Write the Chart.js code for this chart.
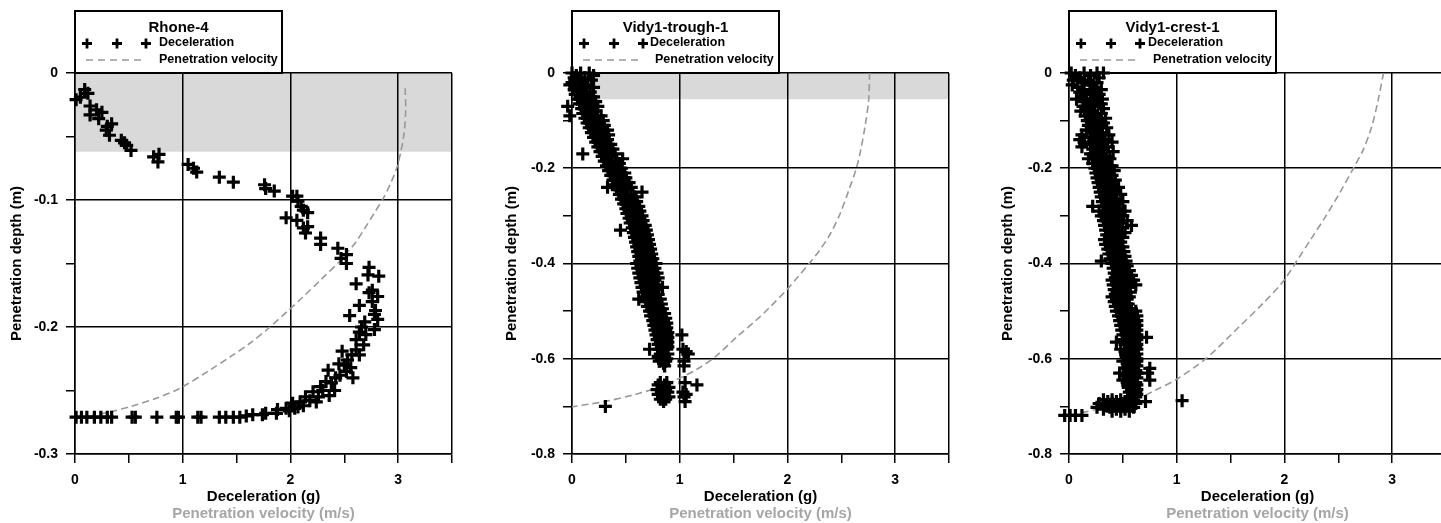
<!DOCTYPE html>
<html><head><meta charset="utf-8">
<script src="https://cdn.jsdelivr.net/npm/chart.js@4.4.1/dist/chart.umd.min.js"></script>
<style>
html,body{margin:0;padding:0;width:1441px;height:523px;overflow:hidden;background:#fff;}
canvas{position:absolute;top:0;}
</style></head><body>
<canvas id="c1" width="485" height="523" style="left:0px"></canvas>
<canvas id="c2" width="485" height="523" style="left:495px"></canvas>
<canvas id="c3" width="485" height="523" style="left:991px"></canvas>
<script>
// ---------- data ----------
const panelTitles = ['Rhone-4', 'Vidy1-trough-1', 'Vidy1-crest-1'];
const seriesNames = ['Deceleration', 'Penetration velocity'];
const xTitle = 'Deceleration (g)';
const x2Title = 'Penetration velocity (m/s)';
const yTitle = 'Penetration depth (m)';
const xRange = [0, 3.5];
const xTickLabels = ['0', '1', '2', '3'];
const depthRanges = [[-0.3, 0], [-0.8, 0], [-0.8, 0]];
const depthMinorSteps = [0.05, 0.1, 0.1];
const depthMajorSteps = [0.1, 0.2, 0.2];
const shadeDepths = [-0.062, -0.055, null];

// Rhone-4 deceleration [g, depth]
const p1Decel = [
[0.01,-0.021],[0.09,-0.013],[0.12,-0.016],[0.05,-0.019],[0.14,-0.026],[0.2,-0.029],[0.14,-0.033],[0.22,-0.036],
[0.25,-0.031],[0.34,-0.040],[0.29,-0.045],[0.32,-0.049],[0.3,-0.042],[0.43,-0.053],[0.48,-0.057],[0.52,-0.061],
[0.46,-0.055],[0.73,-0.066],[0.77,-0.070],[0.78,-0.064],[1.05,-0.072],[1.13,-0.078],[1.1,-0.075],[1.34,-0.082],
[1.47,-0.086],[1.76,-0.088],[1.77,-0.091],[1.85,-0.093],[2.02,-0.097],[2.07,-0.101],[2.06,-0.097],[2.10,-0.105],
[2.12,-0.108],[2.16,-0.110],[1.96,-0.114],[2.06,-0.116],[2.16,-0.121],[2.14,-0.126],[2.12,-0.122],[2.28,-0.130],
[2.28,-0.135],[2.44,-0.138],[2.52,-0.143],[2.47,-0.146],[2.52,-0.150],[2.73,-0.153],[2.82,-0.160],[2.72,-0.159],
[2.61,-0.166],[2.76,-0.171],[2.73,-0.173],[2.81,-0.176],[2.76,-0.180],[2.64,-0.183],[2.79,-0.187],[2.81,-0.194],
[2.55,-0.191],[2.69,-0.196],[2.78,-0.202],[2.78,-0.190],[2.64,-0.204],[2.61,-0.210],[2.68,-0.214],[2.61,-0.218],
[2.48,-0.219],[2.64,-0.222],[2.53,-0.226],[2.45,-0.229],[2.35,-0.234],[2.52,-0.235],[2.58,-0.240],[2.42,-0.240],
[2.38,-0.244],[2.28,-0.247],[2.41,-0.250],[2.21,-0.251],[2.36,-0.254],[2.14,-0.255],[2.26,-0.255],[2.24,-0.259],
[2.09,-0.259],[2.02,-0.260],[2.07,-0.263],[1.96,-0.264],[1.99,-0.266],[1.88,-0.265],[1.87,-0.268],[1.77,-0.268],
[2.66,-0.200],[2.70,-0.206],[2.57,-0.222],[2.50,-0.230],[2.56,-0.232],[2.46,-0.238],[2.33,-0.243],[2.30,-0.250],
[2.18,-0.258],[2.12,-0.262],[2.04,-0.264],
[1.74,-0.269],[1.65,-0.269],[1.59,-0.270],[1.53,-0.271],[1.47,-0.271],[1.40,-0.271],[1.34,-0.271],[1.17,-0.271],
[1.14,-0.271],[0.96,-0.271],[0.94,-0.271],[0.76,-0.271],[0.56,-0.271],[0.53,-0.271],[0.34,-0.271],[0.30,-0.271],
[0.24,-0.271],[0.18,-0.271],[0.11,-0.271],[0.06,-0.271],[0.01,-0.271]
];
// Vidy1-trough-1 deceleration, rows of [depth, [g values read at that depth]]
const p2DecelRows = [
[0.000,[0.00,0.08,0.16]],[-0.005,[0.04,0.20]],[-0.010,[0.02,0.12]],[-0.015,[0.07,0.18]],[-0.020,[0.00,0.10]],
[-0.025,[-0.02,0.14]],[-0.030,[0.04,0.12,0.20]],[-0.035,[0.02,0.09]],[-0.040,[0.06,0.17]],[-0.045,[0.03,0.13]],
[-0.050,[0.08,0.20]],[-0.055,[0.05,0.14]],[-0.060,[0.10,0.22]],[-0.065,[0.07,0.16]],[-0.070,[-0.04,0.12,0.24]],
[-0.075,[0.09,0.18]],[-0.080,[0.13,0.22]],[-0.085,[0.10,0.19]],[-0.090,[-0.02,0.15,0.27]],[-0.095,[0.12,0.22]],
[-0.100,[0.16,0.29]],[-0.105,[0.14,0.24]],[-0.110,[0.18,0.30]],[-0.115,[0.16,0.26]],[-0.120,[0.20,0.33]],
[-0.125,[0.18,0.28]],[-0.130,[0.22,0.34]],[-0.135,[0.20,0.30]],[-0.140,[0.24,0.33]],[-0.145,[0.22,0.31]],
[-0.150,[0.26,0.36]],[-0.155,[0.24,0.33]],[-0.160,[0.28,0.38]],[-0.165,[0.26,0.35]],[-0.170,[0.10,0.30,0.40]],
[-0.175,[0.28,0.37]],[-0.180,[0.32,0.47]],[-0.185,[0.30,0.40]],[-0.190,[0.34,0.44]],[-0.195,[0.32,0.42]],
[-0.200,[0.36,0.46]],[-0.205,[0.34,0.44]],[-0.210,[0.38,0.49]],[-0.215,[0.36,0.46]],[-0.220,[0.40,0.50]],
[-0.225,[0.38,0.48]],[-0.230,[0.42,0.53]],[-0.235,[0.40,0.50]],[-0.240,[0.33,0.44,0.55]],[-0.245,[0.42,0.52]],
[-0.250,[0.46,0.65]],[-0.255,[0.44,0.55]],[-0.260,[0.48,0.58]],[-0.265,[0.46,0.56]],[-0.270,[0.50,0.60]],
[-0.275,[0.48,0.58]],[-0.280,[0.52,0.62]],[-0.285,[0.50,0.60]],[-0.290,[0.53,0.63]],[-0.295,[0.51,0.61]],
[-0.300,[0.55,0.65]],[-0.305,[0.53,0.63]],[-0.310,[0.56,0.66]],[-0.315,[0.54,0.64]],[-0.320,[0.58,0.68]],
[-0.325,[0.56,0.66]],[-0.330,[0.45,0.59,0.69]],[-0.335,[0.57,0.67]],[-0.340,[0.60,0.70]],[-0.345,[0.58,0.68]],
[-0.350,[0.61,0.71]],[-0.355,[0.59,0.69]],[-0.360,[0.62,0.72]],[-0.365,[0.60,0.70]],[-0.370,[0.63,0.73]],
[-0.375,[0.61,0.71]],[-0.380,[0.64,0.74]],[-0.385,[0.62,0.72]],[-0.390,[0.65,0.75]],[-0.395,[0.63,0.73]],
[-0.400,[0.60,0.70,0.78]],[-0.405,[0.64,0.74]],[-0.410,[0.61,0.71,0.77]],[-0.415,[0.65,0.75]],[-0.420,[0.62,0.72,0.79]],
[-0.425,[0.66,0.76]],[-0.430,[0.63,0.73,0.80]],[-0.435,[0.67,0.77]],[-0.440,[0.64,0.74]],[-0.445,[0.68,0.78]],
[-0.450,[0.65,0.75,0.84]],[-0.455,[0.69,0.79]],[-0.460,[0.66,0.76]],[-0.465,[0.70,0.80]],[-0.470,[0.67,0.77]],
[-0.475,[0.62,0.72,0.82]],[-0.480,[0.69,0.79]],[-0.485,[0.73,0.83]],[-0.490,[0.70,0.80]],[-0.495,[0.74,0.84]],
[-0.500,[0.72,0.82]],[-0.505,[0.76,0.86]],[-0.510,[0.73,0.83]],[-0.515,[0.77,0.87]],[-0.520,[0.75,0.85]],
[-0.525,[0.78,0.88]],[-0.530,[0.76,0.86]],[-0.535,[0.79,0.88]],[-0.540,[0.77,0.87]],[-0.545,[0.80,0.89]],
[-0.550,[0.78,0.88,1.02]],[-0.555,[0.81,0.89]],[-0.560,[0.79,0.88]],[-0.565,[0.82,0.89]],[-0.570,[0.80,0.88]],
[-0.575,[0.83,0.89]],[-0.580,[0.72,0.81,0.88,1.03]],[-0.585,[0.84,1.06]],[-0.590,[0.82,0.89,1.08]],[-0.595,[0.80,0.86]],
[-0.600,[0.83,0.88]],[-0.605,[0.81,0.87,1.04]],[-0.610,[0.85]],[-0.615,[0.86,1.04]],
[-0.650,[0.82,0.88,1.05]],[-0.655,[0.80,0.86,1.16]],[-0.660,[0.84,0.90]],[-0.665,[0.79,0.87]],[-0.670,[0.83,0.89,1.03]],
[-0.675,[0.80,0.86,1.06]],[-0.680,[0.84,0.90,1.04]],[-0.685,[0.82,0.87]],[-0.690,[0.85,1.05]],[-0.700,[0.31]]
];
// Vidy1-crest-1 deceleration, rows of [depth, [g values]]
const p3DecelRows = [
[0.000,[0.02,0.14,0.26,0.32]],[-0.005,[0.06,0.20]],[-0.010,[0.10,0.28]],[-0.015,[0.04,0.18]],[-0.020,[0.12,0.26]],
[-0.025,[0.03,0.20]],[-0.030,[0.08,0.24]],[-0.035,[0.14,0.30]],[-0.040,[0.10,0.22]],[-0.045,[0.16,0.28]],
[-0.050,[0.12,0.25]],[-0.055,[0.07,0.20,0.31]],[-0.060,[0.14,0.26]],[-0.065,[0.18,0.30]],[-0.070,[0.13,0.24]],
[-0.075,[0.17,0.32]],[-0.080,[0.11,0.22]],[-0.085,[0.19,0.30]],[-0.090,[0.15,0.25]],[-0.095,[0.20,0.34]],
[-0.100,[0.17,0.27]],[-0.105,[0.21,0.32]],[-0.110,[0.18,0.28]],[-0.115,[0.22,0.35]],[-0.120,[0.16,0.25]],
[-0.125,[0.21,0.31]],[-0.130,[0.12,0.24,0.37]],[-0.135,[0.20,0.29]],[-0.140,[0.10,0.23,0.33]],[-0.145,[0.14,0.27,0.40]],
[-0.150,[0.20,0.30]],[-0.155,[0.12,0.25,0.36]],[-0.160,[0.22,0.32]],[-0.165,[0.26,0.41]],[-0.170,[0.20,0.30]],
[-0.175,[0.24,0.35]],[-0.180,[0.18,0.28,0.38]],[-0.185,[0.26,0.34]],[-0.190,[0.22,0.31]],[-0.195,[0.27,0.40]],
[-0.200,[0.24,0.33]],[-0.205,[0.28,0.42]],[-0.210,[0.25,0.35]],[-0.215,[0.29,0.40]],[-0.220,[0.26,0.36]],
[-0.225,[0.30,0.43]],[-0.230,[0.27,0.37]],[-0.235,[0.31,0.41]],[-0.240,[0.28,0.38,0.46]],[-0.245,[0.32,0.42]],
[-0.250,[0.29,0.39]],[-0.255,[0.33,0.48]],[-0.260,[0.30,0.40]],[-0.265,[0.34,0.44]],[-0.270,[0.31,0.41,0.50]],
[-0.275,[0.35,0.45]],[-0.280,[0.22,0.32,0.42]],[-0.285,[0.36,0.47]],[-0.290,[0.28,0.38,0.52]],[-0.295,[0.34,0.44]],
[-0.300,[0.30,0.40,0.50]],[-0.305,[0.35,0.46]],[-0.310,[0.32,0.42,0.54]],[-0.315,[0.37,0.48]],[-0.320,[0.33,0.44,0.58]],
[-0.325,[0.38,0.50]],[-0.330,[0.34,0.45]],[-0.335,[0.39,0.52]],[-0.340,[0.35,0.46]],[-0.345,[0.40,0.50]],
[-0.350,[0.33,0.44]],[-0.355,[0.38,0.48]],[-0.360,[0.34,0.45]],[-0.365,[0.39,0.50]],[-0.370,[0.36,0.46]],
[-0.375,[0.40,0.51]],[-0.380,[0.37,0.47]],[-0.385,[0.41,0.52]],[-0.390,[0.38,0.48]],[-0.395,[0.30,0.43,0.53]],
[-0.400,[0.40,0.50]],[-0.405,[0.44,0.54]],[-0.410,[0.41,0.51]],[-0.415,[0.45,0.56]],[-0.420,[0.42,0.52]],
[-0.425,[0.46,0.58]],[-0.430,[0.43,0.53]],[-0.435,[0.40,0.48,0.60]],[-0.440,[0.44,0.55]],[-0.445,[0.41,0.50,0.62]],
[-0.450,[0.46,0.56]],[-0.455,[0.42,0.52]],[-0.460,[0.47,0.57]],[-0.465,[0.43,0.53]],[-0.470,[0.40,0.48,0.56]],
[-0.475,[0.44,0.54]],[-0.480,[0.42,0.50]],[-0.485,[0.46,0.55]],[-0.490,[0.43,0.52]],[-0.495,[0.48,0.58]],
[-0.500,[0.44,0.54,0.62]],[-0.505,[0.49,0.59]],[-0.510,[0.46,0.56,0.63]],[-0.515,[0.50,0.60]],[-0.520,[0.47,0.57,0.63]],
[-0.525,[0.51,0.61]],[-0.530,[0.48,0.58,0.63]],[-0.535,[0.52,0.61]],[-0.540,[0.49,0.57,0.63]],[-0.545,[0.53,0.61]],
[-0.550,[0.50,0.58,0.63]],[-0.555,[0.54,0.62,0.72]],[-0.560,[0.51,0.59,0.63]],[-0.565,[0.44,0.55,0.61]],[-0.570,[0.52,0.60,0.63]],
[-0.575,[0.56,0.62]],[-0.580,[0.48,0.57,0.63]],[-0.585,[0.52,0.60]],[-0.590,[0.55,0.63]],[-0.595,[0.53,0.61]],
[-0.600,[0.56,0.63]],[-0.605,[0.50,0.59,0.63]],[-0.610,[0.54,0.61]],[-0.615,[0.57,0.63]],[-0.620,[0.52,0.60,0.75]],
[-0.625,[0.55,0.62]],[-0.630,[0.47,0.58,0.63,0.73]],[-0.635,[0.53,0.61]],[-0.640,[0.56,0.63]],[-0.645,[0.50,0.59,0.75]],
[-0.650,[0.54,0.62]],[-0.655,[0.57,0.63]],[-0.660,[0.55,0.61]],[-0.665,[0.58,0.63]],[-0.670,[0.56,0.62]],
[-0.675,[0.59,0.63]],[-0.680,[0.57,0.62]],
[-0.686,[-0.25,0.32,0.40,0.48,0.56]],[-0.688,[-0.10,0.60,1.05]],[-0.690,[0.36,0.44,0.52,0.71]],
[-0.694,[0.28,0.40,0.50,0.58,0.62]],[-0.698,[0.34,0.46,0.54]],[-0.702,[0.26,0.38,0.48,0.60]],
[-0.706,[0.32,0.44,0.52]],[-0.710,[0.40,0.48,0.56]],[-0.719,[-0.04,0.01,0.06,0.12]]
];
// Penetration velocity curves [m/s, depth]
const p1Vel = [[3.065,-0.012],[3.07,-0.029],[3.056,-0.047],[3.025,-0.062],[2.99,-0.074],[2.93,-0.087],[2.86,-0.099],
[2.78,-0.110],[2.70,-0.121],[2.60,-0.134],[2.52,-0.142],[2.46,-0.148],[2.28,-0.163],[2.12,-0.176],[1.98,-0.187],
[1.81,-0.200],[1.62,-0.213],[1.45,-0.223],[1.25,-0.234],[0.98,-0.248],[0.76,-0.256],[0.54,-0.262],[0.32,-0.267],
[0.20,-0.269],[0.10,-0.271]];
const p2Vel = [[2.763,0],[2.754,-0.057],[2.72,-0.113],[2.68,-0.162],[2.64,-0.200],[2.57,-0.246],[2.49,-0.295],
[2.40,-0.337],[2.30,-0.372],[2.22,-0.395],[2.09,-0.430],[1.99,-0.456],[1.84,-0.491],[1.72,-0.517],
[1.53,-0.554],[1.34,-0.594],[1.16,-0.622],[0.97,-0.644],[0.79,-0.661],[0.57,-0.676],[0.32,-0.689],[0.00,-0.701]];
const p3Vel = [[2.92,0],[2.87,-0.057],[2.81,-0.113],[2.73,-0.162],[2.64,-0.200],[2.51,-0.253],[2.38,-0.302],
[2.24,-0.351],[2.12,-0.393],[1.98,-0.440],[1.80,-0.484],[1.57,-0.535],[1.28,-0.598],[1.00,-0.643],[0.81,-0.665],
[0.63,-0.684],[0.32,-0.703],[0.10,-0.714]];

// ---------- rendering ----------
const FONT = "'Liberation Sans', Arial, Helvetica, sans-serif";
Chart.defaults.font.family = FONT;
Chart.defaults.color = '#000';

function pairsToPoints(pairs){ return pairs.map(p => ({x: p[0], y: p[1]})); }
function rowsToPoints(rows){
  const out = [];
  rows.forEach(r => r[1].forEach(v => out.push({x: v, y: r[0]})));
  return out;
}
function isMultiple(v, step){ const q = v / step; return Math.abs(q - Math.round(q)) < 1e-6; }

const boxLegend = {
  id: 'boxLegend',
  beforeDatasetsDraw(chart, args, o){
    const ctx = chart.ctx, left = chart.chartArea.left, top = chart.chartArea.top;
    const w = 207, t = 11;
    ctx.save();
    ctx.fillStyle = '#fff';
    ctx.fillRect(left, t, w, top - t);
    ctx.lineWidth = 2; ctx.strokeStyle = '#000';
    ctx.strokeRect(left, t, w, top - t);
    ctx.fillStyle = '#000'; ctx.textBaseline = 'middle';
    ctx.font = 'bold 15px ' + FONT; ctx.textAlign = 'center';
    ctx.fillText(o.title, left + w / 2, 28);
    ctx.lineWidth = 2.8;
    [12, 42, 71].forEach(dx => {
      ctx.beginPath();
      ctx.moveTo(left + dx - 5, 43.5); ctx.lineTo(left + dx + 5, 43.5);
      ctx.moveTo(left + dx, 38.5); ctx.lineTo(left + dx, 48.5);
      ctx.stroke();
    });
    ctx.font = 'bold 12.5px ' + FONT; ctx.textAlign = 'left';
    ctx.fillText(chart.data.datasets[0].label, left + o.dOff, 43);
    ctx.strokeStyle = '#999'; ctx.lineWidth = 1.5; ctx.setLineDash([7, 5]);
    ctx.beginPath(); ctx.moveTo(left + 11, 60); ctx.lineTo(left + 70, 60); ctx.stroke();
    ctx.setLineDash([]);
    ctx.fillText(chart.data.datasets[1].label, left + o.pOff, 60);
    ctx.restore();
  }
};

function makePanel(id, i, decel, vel, yWidth, rightPad, dOff, pOff){
  const [yMin, yMax] = depthRanges[i];
  const major = depthMajorSteps[i];
  const datasets = [
    {label: seriesNames[0], data: decel, pointStyle: 'cross', pointRadius: 6.5, pointBorderWidth: 3.2,
     borderColor: '#000', backgroundColor: '#000', showLine: false, order: 0, clip: false, xAxisID: 'x'},
    {label: seriesNames[1], data: vel, showLine: true, pointRadius: 0, borderColor: '#999',
     borderWidth: 1.6, borderDash: [7, 4], tension: 0.3, order: 1, xAxisID: 'x2', fill: false}
  ];
  if (shadeDepths[i] !== null) {
    datasets.push({label: 'shade', data: [{x: xRange[0], y: shadeDepths[i]}, {x: xRange[1], y: shadeDepths[i]}],
      showLine: true, pointRadius: 0, borderWidth: 0, borderColor: 'rgba(0,0,0,0)',
      backgroundColor: 'rgba(0,0,0,0.15)', fill: 'end', order: 2, xAxisID: 'x'});
  }
  const gridColorX = c => (c.tick && (isMultiple(c.tick.value, 1) || Math.abs(c.tick.value - xRange[1]) < 1e-6)) ? '#000' : 'rgba(0,0,0,0)';
  const gridColorY = c => (c.tick && isMultiple(c.tick.value, major)) ? '#000' : 'rgba(0,0,0,0)';
  new Chart(document.getElementById(id), {
    type: 'scatter',
    data: {datasets},
    plugins: [boxLegend],
    options: {
      responsive: false, animation: false, events: [],
      layout: {padding: {top: 73, right: rightPad, bottom: 0, left: 0}},
      plugins: {legend: {display: false}, tooltip: {enabled: false},
        boxLegend: {title: panelTitles[i], dOff, pOff}},
      scales: {
        x: {type: 'linear', position: 'bottom', min: xRange[0], max: xRange[1], weight: 0,
          afterFit: s => { s.height = 54; },
          ticks: {stepSize: 0.5, autoSkip: false, maxRotation: 0, padding: 9, color: '#000',
            font: {size: 14, weight: 'bold'},
            callback: v => isMultiple(v, 1) && xTickLabels.includes(String(Math.round(v))) ? String(Math.round(v)) : ''},
          grid: {color: gridColorX, lineWidth: 1.5, tickLength: 9, tickColor: '#000', tickWidth: 1.5},
          border: {display: true, color: '#000', width: 1.5},
          title: {display: true, text: xTitle, color: '#000', font: {size: 15, weight: 'bold'}, padding: {top: 0, bottom: 2}}
        },
        x2: {type: 'linear', position: 'bottom', min: xRange[0], max: xRange[1], weight: 1,
          afterFit: s => { s.height = 15; },
          ticks: {display: false}, grid: {display: false}, border: {display: false},
          title: {display: true, text: x2Title, color: '#a6a6a6', font: {size: 15, weight: 'bold'}, padding: 0}
        },
        y: {type: 'linear', position: 'left', min: yMin, max: yMax,
          afterFit: s => { s.width = yWidth; },
          ticks: {stepSize: depthMinorSteps[i], autoSkip: false, padding: 8, color: '#000',
            font: {size: 14, weight: 'bold'},
            callback: v => isMultiple(v, major) ? (Math.abs(v) < 1e-9 ? '0' : v.toFixed(1)) : ''},
          grid: {color: gridColorY, lineWidth: 1.5, tickLength: 9, tickColor: '#000', tickWidth: 1.5},
          border: {display: true, color: '#000', width: 1.5},
          title: {display: true, text: yTitle, color: '#000', font: {size: 15, weight: 'bold'}, padding: {top: 8, bottom: 0}}
        }
      }
    }
  });
}

makePanel('c1', 0, pairsToPoints(p1Decel), pairsToPoints(p1Vel), 75, 33, 84, 84);
makePanel('c2', 1, rowsToPoints(p2DecelRows), pairsToPoints(p2Vel), 77, 31, 78, 83);
makePanel('c3', 2, rowsToPoints(p3DecelRows), pairsToPoints(p3Vel), 78, 30, 79, 84);
</script>
</body></html>
